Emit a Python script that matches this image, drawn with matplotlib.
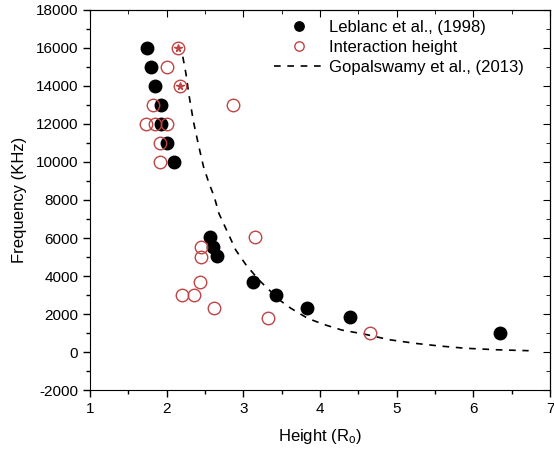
import matplotlib
matplotlib.use('Agg')
import matplotlib.pyplot as plt
from matplotlib.ticker import MultipleLocator

plt.rcParams['font.family'] = ['Liberation Sans', 'DejaVu Sans']
plt.rcParams['mathtext.fontset'] = 'custom'
plt.rcParams['mathtext.rm'] = 'Liberation Sans'
plt.rcParams['mathtext.it'] = 'Liberation Sans:italic'
plt.rcParams['axes.unicode_minus'] = False

# Leblanc et al. (1998)
leblanc_h = [1.74, 1.80, 1.85, 1.93, 1.93, 2.00, 2.10, 2.56, 2.61, 2.66,
             3.12, 3.42, 3.83, 4.39, 6.35]
leblanc_f = [16000, 15000, 14000, 13000, 12000, 11000, 10000, 6050, 5550, 5050,
             3700, 3000, 2300, 1820, 1020]

# Interaction height
inter_h = [2.15, 2.00, 2.17, 1.82, 2.87, 1.73, 1.85, 2.00, 1.91, 1.91,
           2.45, 2.45, 3.15, 2.43, 2.20, 2.35, 2.62, 3.32, 4.65]
inter_f = [16000, 15000, 14000, 13000, 13000, 12000, 12000, 12000, 11000, 10000,
           5520, 5020, 6030, 3700, 3020, 3020, 2300, 1800, 1020]

# starred interaction points
star_h = [2.15, 2.17]
star_f = [16000, 14000]

# Gopalswamy et al. (2013) curve
gop_h = [2.21, 2.25, 2.29, 2.35, 2.42, 2.48, 2.55, 2.62, 2.68, 2.81, 2.90, 3.03,
         3.20, 3.47, 3.62, 3.84, 4.05, 4.28, 4.58, 4.90, 5.24, 5.55, 5.89, 6.30, 6.72]
gop_f = [15540, 14670, 13530, 12100, 10800, 9750, 8900, 8170, 7300, 6160, 5370, 4610,
         3800, 2740, 2300, 1770, 1450, 1160, 940, 650, 457, 320, 200, 120, 70]

red = '#c04444'

fig = plt.figure(figsize=(5.54, 4.53), dpi=100)
ax = fig.add_axes([0.1625, 0.139, 0.8305, 0.839])

ax.plot(leblanc_h, leblanc_f, 'o', color='black', markersize=9,
        label='Leblanc et al., (1998)', zorder=3)
ax.plot(inter_h, inter_f, 'o', markerfacecolor='none', markeredgecolor=red,
        markeredgewidth=1.0, markersize=9, label='Interaction height', zorder=4)
ax.plot(star_h, star_f, '*', color=red, markersize=5.5, zorder=4)
ax.plot(gop_h, gop_f, '--', color='black', linewidth=1.2, dashes=(4, 4),
        label='Gopalswamy et al., (2013)', zorder=2)

ax.set_xlim(1, 7)
ax.set_ylim(-2000, 18000)
ax.xaxis.set_major_locator(MultipleLocator(1))
ax.xaxis.set_minor_locator(MultipleLocator(0.5))
ax.yaxis.set_major_locator(MultipleLocator(2000))
ax.yaxis.set_minor_locator(MultipleLocator(1000))
ax.tick_params(which='both', direction='out', labelsize=11, top=False, right=False)
ax.tick_params(which='major', length=5, width=1)
ax.tick_params(which='minor', length=3, width=1)

# inward ticks on top and right, as in the original
sec_x = ax.secondary_xaxis('top')
sec_x.xaxis.set_major_locator(MultipleLocator(1))
sec_x.xaxis.set_minor_locator(MultipleLocator(0.5))
sec_x.tick_params(which='both', direction='in', labeltop=False)
sec_x.tick_params(which='major', length=5)
sec_x.tick_params(which='minor', length=3)
sec_y = ax.secondary_yaxis('right')
sec_y.yaxis.set_major_locator(MultipleLocator(2000))
sec_y.yaxis.set_minor_locator(MultipleLocator(1000))
sec_y.tick_params(which='both', direction='in', labelright=False)
sec_y.tick_params(which='major', length=5)
sec_y.tick_params(which='minor', length=3)

ax.set_xlabel(r'Height (R$_\mathrm{o}$)', fontsize=12, labelpad=8)
ax.set_ylabel('Frequency (KHz)', fontsize=12, labelpad=6)

ax.legend(loc='upper right', bbox_to_anchor=(0.965, 1.0), frameon=False,
          fontsize=12, handlelength=3.0, handletextpad=0.3, labelspacing=0.3,
          borderaxespad=0.2, markerscale=0.75)

fig.savefig('out.png', dpi=100)
